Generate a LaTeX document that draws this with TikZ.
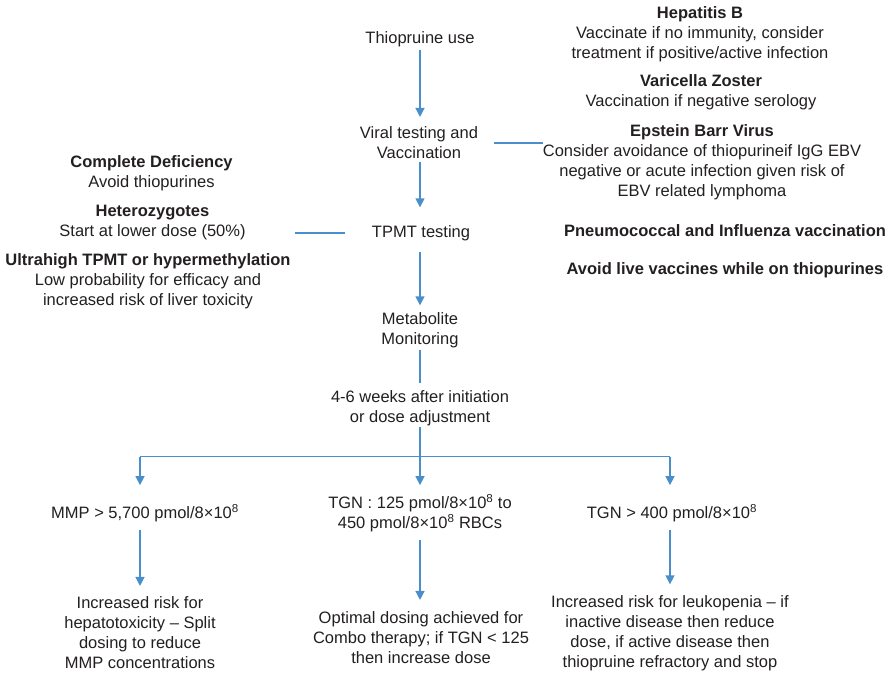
\documentclass[tikz,border=0pt]{standalone}
\usepackage{fontspec}
\setmainfont{Liberation Sans}
\usetikzlibrary{arrows.meta}
\definecolor{lineblue}{HTML}{4A8FCB}
\definecolor{txt}{HTML}{231F20}
\begin{document}
\begin{tikzpicture}[x=1pt,y=-1pt,
  every node/.style={inner sep=0pt, outer sep=0pt, align=center, text=txt, font=\fontsize{16.5}{20}\selectfont},
  ln/.style={draw=lineblue, line width=1.4pt},
  arr/.style={ln, -{Triangle[width=9pt,length=9pt]}}]
\useasboundingbox (0,0) rectangle (889,673);
% main column
\node (thio) at (420,39) {Thiopruine use};
\node (viral) at (419,143) {Viral testing and\\Vaccination};
\node (tpmt) at (421,233) {TPMT testing};
\node (meta) at (420,330) {Metabolite\\Monitoring};
\node (weeks) at (420,408) {4-6 weeks after initiation\\or dose adjustment};
% right info
\node (hep) at (700,34) {\textbf{Hepatitis B}\\Vaccinate if no immunity, consider\\treatment if positive/active infection};
\node (vzv) at (701,92) {\textbf{Varicella Zoster}\\Vaccination if negative serology};
\node (ebv) at (702,162) {\textbf{Epstein Barr Virus}\\Consider avoidance of thiopurineif IgG EBV\\negative or acute infection given risk of\\EBV related lymphoma};
\node (pneu) at (725,231) {\textbf{Pneumococcal and Influenza vaccination}};
\node (live) at (725,270) {\textbf{Avoid live vaccines while on thiopurines}};
% left info
\node (def) at (151.5,173) {\textbf{Complete Deficiency}\\Avoid thiopurines};
\node (het) at (152.5,223) {\textbf{Heterozygotes}\\Start at lower dose (50\%)};
\node (ultra) at (148,281) {\textbf{Ultrahigh TPMT or hypermethylation}\\Low probability for efficacy and\\increased risk of liver toxicity};
% branches
\node (mmp) at (145,513) {MMP > 5,700 pmol/8×10\textsuperscript{8}};
\node (tgnmid) at (420,513) {TGN : 125 pmol/8×10\textsuperscript{8} to\\450 pmol/8×10\textsuperscript{8} RBCs};
\node (tgnhi) at (672,513) {TGN > 400 pmol/8×10\textsuperscript{8}};
\node (res1) at (140,633) {Increased risk for\\hepatotoxicity – Split\\dosing to reduce\\MMP concentrations};
\node (res2) at (421,638) {Optimal dosing achieved for\\Combo therapy; if TGN < 125\\then increase dose};
\node (res3) at (670,633) {Increased risk for leukopenia – if\\inactive disease then reduce\\dose, if active disease then\\thiopruine refractory and stop};
% connectors
\draw[arr] ([yshift=-3.5pt]thio.south) -- ([yshift=10pt]viral.north -| thio.south);
\draw[arr] ([yshift=-3pt]viral.south -| thio.south) -- ([yshift=18pt]tpmt.north -| thio.south);
\draw[arr] ([yshift=-11pt]tpmt.south -| thio.south) -- ([yshift=7pt]meta.north -| thio.south);
\draw[ln] ([yshift=-2.5pt]meta.south -| thio.south) -- ([yshift=7pt]weeks.north -| thio.south);
\coordinate (j) at ([yshift=-31pt]weeks.south -| thio.south);
\draw[ln] ([yshift=-1.5pt]weeks.south -| thio.south) -- (j);
\draw[ln] (j -| res1.north) -- (j -| res3.north);
\draw[arr] (j) -- ([yshift=9pt]tgnmid.north -| j);
\draw[arr] (j -| res1.north) -- ([yshift=19pt]mmp.north -| res1.north);
\draw[arr] (j -| res3.north) -- ([yshift=19pt]tgnhi.north -| res3.north);
\draw[arr] ([yshift=-8pt]mmp.south -| res1.north) -- ([yshift=11pt]res1.north);
\draw[arr] ([yshift=-8pt]tgnmid.south -| j) -- ([yshift=12pt]res2.north -| j);
\draw[arr] ([yshift=-8pt]tgnhi.south -| res3.north) -- ([yshift=11pt]res3.north);
\draw[ln] ([xshift=16pt]viral.east) -- (viral.east -| ebv.west);
\draw[ln] ([xshift=4pt]ultra.east |- tpmt.west) -- ([xshift=-27pt]tpmt.west);
\end{tikzpicture}
\end{document}
